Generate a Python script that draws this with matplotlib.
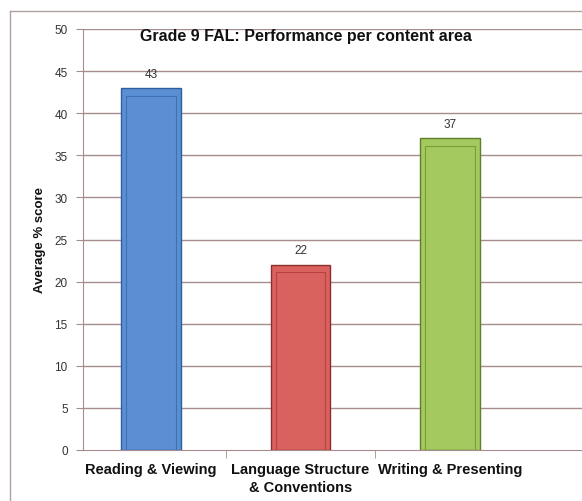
import matplotlib
matplotlib.use("Agg")
import matplotlib.pyplot as plt
from matplotlib.patches import Rectangle
from matplotlib.lines import Line2D

categories = ["Reading & Viewing", "Language Structure\n& Conventions", "Writing & Presenting"]
values = [43, 22, 37]
yticks = [0, 5, 10, 15, 20, 25, 30, 35, 40, 45, 50]
title = "Grade 9 FAL: Performance per content area"
ylabel = "Average % score"

face = ["#5b8fd3", "#d9625f", "#a3c95f"]
edge = ["#2f5f9e", "#8e2e2c", "#5f7f2e"]
inner = ["#3e72b5", "#b54340", "#7a9c3a"]

W, H = 582, 502
fig = plt.figure(figsize=(W / 100, H / 100), dpi=100)
plt.rcParams['font.family'] = ['Liberation Sans', 'DejaVu Sans']

left, top, bottom = 83, 30, 451
ax = fig.add_axes([left / W, 1 - bottom / H, (W - left + 2) / W, (bottom - top) / H])
px_per_unit = 149.5
x0 = -(151 - left) / px_per_unit
x1 = x0 + (W - left + 2) / px_per_unit
ax.set_xlim(x0, x1)
ax.set_ylim(0, 50)

grid_c = "#a68c8c"
for y in yticks[1:]:
    ax.axhline(y, color=grid_c, lw=1.0, zorder=1)

bw = 0.40
for i, v in enumerate(values):
    ax.bar(i, v, width=bw, color=face[i], edgecolor=edge[i], linewidth=1.0, zorder=3)
    ax.add_patch(Rectangle((i - bw / 2 + 0.035, 0), bw - 0.07, v - 0.9, fill=False,
                           edgecolor=inner[i], linewidth=0.8, zorder=4))
    ax.text(i, v + 1.7, str(v), ha="center", va="center", fontsize=8.5, color="#333333", zorder=5)

for s in ["top", "right"]:
    ax.spines[s].set_visible(False)
ax.spines["left"].set_color(grid_c)
ax.spines["bottom"].set_color(grid_c)

ax.set_yticks(yticks)
ax.set_yticklabels([str(t) for t in yticks], fontsize=8.5, color="#333333")
ax.tick_params(axis="y", length=5, color=grid_c, pad=6)
ax.set_xticks(range(len(categories)))
ax.set_xticklabels(categories, fontsize=10.5, fontweight="bold", color="#111111", linespacing=1.3)
ax.tick_params(axis="x", length=0, pad=9)
ax.set_xticks([0.5, 1.5], minor=True)
ax.tick_params(axis="x", which="minor", length=6, color=grid_c)

fig.text(40 / W, 1 - 240 / H, ylabel, rotation=90, ha="center", va="center",
         fontsize=9.5, fontweight="bold", color="#111111")
fig.text(306 / W, 1 - 37 / H, title, ha="center", va="center",
         fontsize=11.5, fontweight="bold", color="#111111")

fig.add_artist(Line2D([10 / W, 10 / W], [0, 1 - 12 / H], color="#b0a0a0", lw=1.0))
fig.add_artist(Line2D([10 / W, 1], [1 - 12 / H, 1 - 12 / H], color="#b0a0a0", lw=1.0))

fig.savefig("out.png", dpi=100)
